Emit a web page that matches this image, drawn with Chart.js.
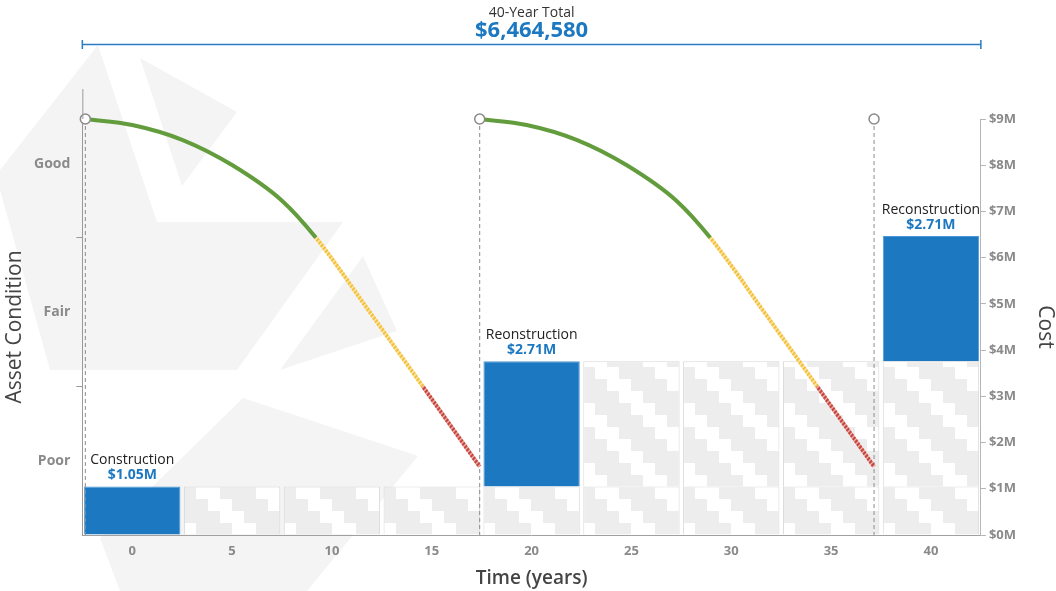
<!DOCTYPE html>
<html>
<head>
<meta charset="utf-8">
<script src="https://cdn.jsdelivr.net/npm/chart.js@4.4.1/dist/chart.umd.min.js"></script>
<style>
  html, body { margin: 0; padding: 0; background: #fff; }
  #wrap { width: 1056px; height: 591px; position: relative; }
</style>
</head>
<body>
<div id="wrap"><canvas id="chart"></canvas></div>
<script>
// categories (years) and cost stacks, in $M
const years = ['0', '5', '10', '15', '20', '25', '30', '35', '40'];
const priorConstruction = [null, 1.05, 1.05, 1.05, 1.05, 1.05, 1.05, 1.05, 1.05];
const priorReconstruction = [null, null, null, null, null, 2.71, 2.71, 2.71, 2.71];
const newSpend = [1.05, null, null, null, 2.71, null, null, null, 2.71];
const spendNames = ['Construction', '', '', '', 'Reonstruction', '', '', '', 'Reconstruction'];
const spendLabels = ['$1.05M', '', '', '', '$2.71M', '', '', '', '$2.71M'];

// condition curves (x in years, y in condition units: 0-1 poor, 1-2 fair, 2+ good)
const cycle1Years = [-2.35, 0, 2.5, 5, 7.5, 9.2, 11.9, 14.55, 17.4];
const cycle1Condition = [2.8, 2.76, 2.66, 2.49, 2.25, 2.0, 1.5, 1.0, 0.46];
const cycle2Years = [17.4, 19.75, 22.25, 24.75, 27.25, 28.95, 31.65, 34.3, 37.15];
const cycle2Condition = [2.8, 2.76, 2.66, 2.49, 2.25, 2.0, 1.5, 1.0, 0.46];
const resetYears = [-2.35, 17.4, 37.15];
const resetCondition = 2.8;

const conditionLabels = ['Poor', 'Fair', 'Good'];
const totalLabel = '40-Year Total';
const totalValue = '$6,464,580';

const FONT = '"Open Sans", "Noto Sans", sans-serif';
const BLUE = '#1c78c0';
const GREEN = '#629c3c';
const BAR_PCT = 0.965;

// hatch patterns
const stripes = (base, light) => {
  const cv = document.createElement('canvas');
  cv.width = 5; cv.height = 5;
  const g = cv.getContext('2d');
  g.fillStyle = base;
  g.fillRect(0, 0, 5, 5);
  g.strokeStyle = light;
  g.lineWidth = 1.4;
  g.beginPath();
  g.moveTo(-1, 6); g.lineTo(6, -1);
  g.moveTo(-1, 1); g.lineTo(1, -1);
  g.moveTo(4, 6); g.lineTo(6, 4);
  g.stroke();
  return g.createPattern(cv, 'repeat');
};
const stairTile = (() => {
  const cell = 12, period = 5;
  const cv = document.createElement('canvas');
  cv.width = cell * period; cv.height = cell * period;
  const g = cv.getContext('2d');
  g.fillStyle = '#ededed';
  g.fillRect(0, 0, cv.width, cv.height);
  g.fillStyle = '#ffffff';
  for (let j = 0; j < period; j++) {
    for (let i = 0; i < period; i++) {
      if (((i - j) % period + period) % period < 2) g.fillRect(i * cell, j * cell, cell, cell);
    }
  }
  return cv;
})();
const yellowHatch = stripes('#f3c13f', '#fde9ad');
const redHatch = stripes('#c4463f', '#eeb0a8');

// each grey column gets its own pattern, anchored at the column's left edge
const stairCache = {};
const greyStairs = (c) => {
  const pattern = c.chart.ctx.createPattern(stairTile, 'repeat');
  const sx = c.chart.scales && c.chart.scales.x;
  const area = c.chart.chartArea;
  if (c.type !== 'data' || !sx || !area || !sx.width) return pattern;
  if (stairCache[c.dataIndex]) return stairCache[c.dataIndex];
  const w = sx.width / years.length * BAR_PCT;
  const left = Math.round(sx.getPixelForValue(c.dataIndex) - w / 2);
  pattern.setTransform(new DOMMatrix().translate(left, Math.round(area.bottom)));
  stairCache[c.dataIndex] = pattern;
  return pattern;
};

const conditionColor = (ctx) => {
  const m = (ctx.p0.parsed.y + ctx.p1.parsed.y) / 2;
  if (m > 2) return GREEN;
  if (m > 1) return yellowHatch;
  return redHatch;
};

const curve = (xs, ys) => ({
  type: 'line',
  data: xs.map((x, i) => ({ x, y: ys[i] })),
  xAxisID: 'xl',
  yAxisID: 'cond',
  borderColor: GREEN,
  borderWidth: 4,
  pointRadius: 0,
  cubicInterpolationMode: 'monotone',
  segment: { borderColor: conditionColor },
  clip: false,
  order: 1
});

const bar = (data, fill, edge) => ({
  type: 'bar',
  data,
  xAxisID: 'x',
  yAxisID: 'cost',
  stack: 'cost',
  grouped: false,
  backgroundColor: fill,
  borderColor: edge,
  borderWidth: 1,
  barPercentage: BAR_PCT,
  categoryPercentage: 1,
  order: 3
});

const datasets = [
  bar(priorConstruction, greyStairs, '#d9d9d9'),
  bar(priorReconstruction, greyStairs, '#d9d9d9'),
  bar(newSpend, BLUE, '#4f98d6'),
  ...resetYears.map(x => ({
    type: 'line',
    data: [{ x, y: resetCondition }, { x, y: 0 }],
    xAxisID: 'xl',
    yAxisID: 'cond',
    borderColor: '#8c8c8c',
    borderWidth: 1,
    borderDash: [4, 3],
    pointRadius: 0,
    clip: false,
    order: 2
  })),
  curve(cycle1Years, cycle1Condition),
  curve(cycle2Years, cycle2Condition),
  {
    type: 'line',
    data: resetYears.map(x => ({ x, y: resetCondition })),
    xAxisID: 'xl',
    yAxisID: 'cond',
    showLine: false,
    pointRadius: 5,
    pointBackgroundColor: '#ffffff',
    pointBorderColor: '#8a8a8a',
    pointBorderWidth: 1.5,
    clip: false,
    order: 0
  }
];
const spendIndex = 2;

// faint logo watermark behind the plot
const watermark = [
  [[98, 45], [157, 222], [343, 222], [237, 370], [50, 370], [0, 190], [0, 170]],
  [[140, 58], [237, 112], [182, 186]],
  [[363, 256], [397, 331], [280, 370]],
  [[243, 398], [418, 456], [307, 591], [120, 591], [100, 538]]
];

const decor = {
  id: 'decor',
  beforeDraw(chart) {
    const ctx = chart.ctx;
    ctx.save();
    ctx.fillStyle = '#f4f4f4';
    watermark.forEach(poly => {
      ctx.beginPath();
      poly.forEach(([x, y], i) => i ? ctx.lineTo(x, y) : ctx.moveTo(x, y));
      ctx.closePath();
      ctx.fill();
    });
    ctx.restore();
  },
  afterDatasetsDraw(chart) {
    const ctx = chart.ctx;
    const meta = chart.getDatasetMeta(spendIndex);
    ctx.save();
    ctx.textAlign = 'center';
    ctx.textBaseline = 'middle';
    meta.data.forEach((el, i) => {
      if (!newSpend[i]) return;
      ctx.fillStyle = '#222';
      ctx.font = '14px ' + FONT;
      ctx.fillText(spendNames[i], el.x, el.y - 26);
      ctx.fillStyle = BLUE;
      ctx.font = 'bold 14px ' + FONT;
      ctx.fillText(spendLabels[i], el.x, el.y - 11);
    });
    ctx.restore();
  },
  afterDraw(chart) {
    const { ctx, chartArea } = chart;
    const cx = (chartArea.left + chartArea.right) / 2;
    ctx.save();
    ctx.textAlign = 'center';
    ctx.textBaseline = 'middle';
    ctx.fillStyle = '#333';
    ctx.font = '14px ' + FONT;
    ctx.fillText(totalLabel, cx, 13);
    ctx.fillStyle = BLUE;
    ctx.font = 'bold 22px ' + FONT;
    ctx.fillText(totalValue, cx, 31);
    ctx.strokeStyle = '#2b7cc3';
    ctx.lineWidth = 1.5;
    ctx.beginPath();
    ctx.moveTo(chartArea.left, 44.5);
    ctx.lineTo(chartArea.right, 44.5);
    ctx.moveTo(chartArea.left, 40);
    ctx.lineTo(chartArea.left, 49);
    ctx.moveTo(chartArea.right, 40);
    ctx.lineTo(chartArea.right, 49);
    ctx.stroke();
    // condition axis runs a bit above the cost scale
    ctx.strokeStyle = '#9a9a9a';
    ctx.lineWidth = 1;
    ctx.beginPath();
    ctx.moveTo(chartArea.left + 0.5, chartArea.top - 30);
    ctx.lineTo(chartArea.left + 0.5, chartArea.top);
    ctx.stroke();
    ctx.restore();
  }
};

const tickFont = { family: FONT, size: 13, weight: 'bold' };
const titleFont = { family: FONT, size: 21, weight: '500', lineHeight: 1 };

new Chart(document.getElementById('chart'), {
  type: 'bar',
  data: { labels: years, datasets },
  options: {
    responsive: true,
    maintainAspectRatio: false,
    animation: false,
    layout: { padding: { top: 119, left: 5, right: 0, bottom: 3 } },
    plugins: { legend: { display: false }, tooltip: { enabled: false } },
    scales: {
      x: {
        type: 'category',
        position: 'bottom',
        offset: true,
        grid: { display: false, drawTicks: false },
        border: { color: '#a0a0a0' },
        ticks: { color: '#8a8a8a', font: { family: FONT, size: 13, weight: 'bold', lineHeight: 1 }, padding: 9.5 },
        title: {
          display: true, text: 'Time (years)', color: '#444',
          font: { family: FONT, size: 19, weight: '600', lineHeight: 1 }, padding: { top: 2, bottom: 0 }
        }
      },
      xl: { type: 'linear', min: -2.5, max: 42.5, offset: false, display: false },
      cond: {
        type: 'linear',
        position: 'left',
        min: 0,
        max: resetCondition,
        afterBuildTicks: (scale) => {
          scale.ticks = [0.5, 1, 1.5, 2, 2.5].map(value => ({ value }));
        },
        grid: {
          drawOnChartArea: false,
          tickLength: 6,
          color: (c) => Number.isInteger(c.tick.value) ? '#9a9a9a' : 'rgba(0,0,0,0)'
        },
        border: { color: '#9a9a9a' },
        ticks: {
          color: '#8a8a8a',
          font: { family: FONT, size: 14, weight: 'bold' },
          padding: 6,
          callback: (v) => Number.isInteger(v) ? '' : conditionLabels[Math.floor(v)]
        },
        title: { display: true, text: 'Asset Condition', color: '#444', font: titleFont, padding: { top: 0, bottom: 2 } }
      },
      cost: {
        type: 'linear',
        position: 'right',
        min: 0,
        max: 9,
        grid: { drawOnChartArea: false, tickLength: 5, color: '#b5b5b5' },
        border: { color: '#b5b5b5' },
        ticks: {
          stepSize: 1,
          color: '#8a8a8a',
          font: tickFont,
          padding: 3,
          callback: (v) => '$' + v + 'M'
        },
        title: { display: true, text: 'Cost', color: '#444', font: titleFont, padding: { top: 1, bottom: 15 } }
      }
    }
  },
  plugins: [decor]
});
</script>
</body>
</html>
